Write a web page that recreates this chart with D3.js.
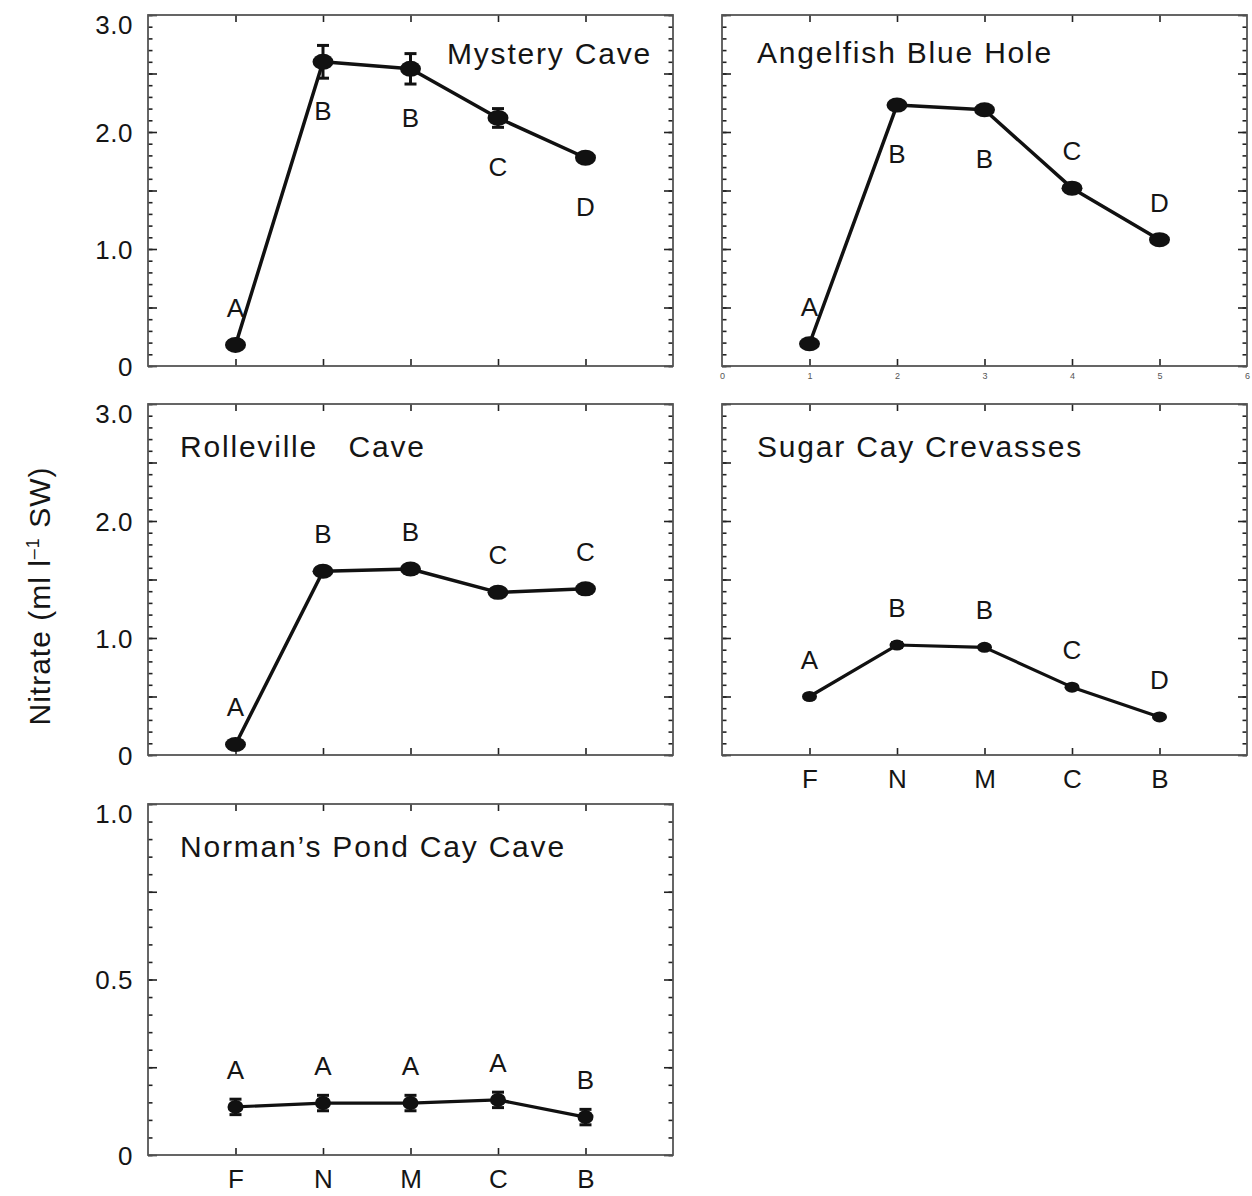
<!DOCTYPE html>
<html>
<head>
<meta charset="utf-8">
<script src="https://cdn.jsdelivr.net/npm/d3@7"></script>
<style>
  body { margin: 0; background: #fff; }
  text { font-family: "Liberation Sans", Arial, Helvetica, sans-serif; fill: #151515; }
</style>
</head>
<body>
<svg id="chart"></svg>
<script>
// sites on the x axis (positions 1..5)
var sites = ["F", "N", "M", "C", "B"];

// Mystery Cave
var mysteryMean = [0.18, 2.60, 2.54, 2.12, 1.78];
var mysteryErr = [0, 0.14, 0.13, 0.08, 0];
var mysteryLetters = ["A", "B", "B", "C", "D"];
var mysterySide = ["above", "below", "below", "below", "below"];

// Angelfish Blue Hole
var angelMean = [0.19, 2.23, 2.19, 1.52, 1.08];
var angelErr = [0, 0, 0, 0, 0];
var angelLetters = ["A", "B", "B", "C", "D"];
var angelSide = ["above", "below", "below", "above", "above"];

// Rolleville Cave
var rollMean = [0.09, 1.57, 1.59, 1.39, 1.42];
var rollErr = [0, 0, 0, 0, 0];
var rollLetters = ["A", "B", "B", "C", "C"];
var rollSide = ["above", "above", "above", "above", "above"];

// Sugar Cay Crevasses
var sugarMean = [0.50, 0.94, 0.92, 0.58, 0.325];
var sugarErr = [0, 0.02, 0.015, 0, 0];
var sugarLetters = ["A", "B", "B", "C", "D"];
var sugarSide = ["above", "above", "above", "above", "above"];

// Norman's Pond Cay Cave
var normanMean = [0.137, 0.148, 0.148, 0.157, 0.108];
var normanErr = [0.022, 0.022, 0.022, 0.022, 0.022];
var normanLetters = ["A", "A", "A", "A", "B"];
var normanSide = ["above", "above", "above", "above", "above"];

// y tick labels
var yLabels3 = [0, 1, 2, 3];
var yLabels1 = [0, 0.5, 1];
var xNumLabels = [0, 1, 2, 3, 4, 5, 6];

var W = 525, H = 351;

var panels = [
  { title: "Mystery Cave", mean: mysteryMean, err: mysteryErr, letters: mysteryLetters, side: mysterySide,
    ymax: 3, major: 0.5, minor: 0.1, ylab: yLabels3, left: 148, top: 15,
    tx: 652, ty: 64, anchor: "end", rx: 10.5, ry: 8, sw: 3.5 },
  { title: "Angelfish Blue Hole", mean: angelMean, err: angelErr, letters: angelLetters, side: angelSide,
    ymax: 3, major: 0.5, minor: 0.1, ylab: null, left: 722, top: 15, numAxis: true,
    tx: 757, ty: 63, anchor: "start", rx: 10.5, ry: 7.5, sw: 3.5 },
  { title: "Rolleville   Cave", mean: rollMean, err: rollErr, letters: rollLetters, side: rollSide,
    ymax: 3, major: 0.5, minor: 0.1, ylab: yLabels3, left: 148, top: 404,
    tx: 180, ty: 457, anchor: "start", rx: 10.5, ry: 7.5, sw: 3.5 },
  { title: "Sugar Cay Crevasses", mean: sugarMean, err: sugarErr, letters: sugarLetters, side: sugarSide,
    ymax: 3, major: 0.5, minor: 0.1, ylab: null, left: 722, top: 404, siteAxis: true,
    tx: 757, ty: 457, anchor: "start", rx: 7.5, ry: 5.5, sw: 3.2 },
  { title: "Norman\u2019s Pond Cay Cave", mean: normanMean, err: normanErr, letters: normanLetters, side: normanSide,
    ymax: 1, major: 0.25, minor: 0.05, ylab: yLabels1, left: 148, top: 804, siteAxis: true,
    tx: 180, ty: 857, anchor: "start", rx: 8, ry: 7, sw: 3.2 }
];

var svg = d3.select("#chart")
  .attr("width", 1252)
  .attr("height", 1196);

var x = d3.scaleLinear().domain([0, 6]).range([0, W]);

function steps(max, step) {
  return d3.range(0, Math.round(max / step) + 1).map(function(i) { return i * step; });
}

function clean(s) {
  s.select(".domain").remove();
  s.selectAll("line").attr("stroke-width", 1.6);
}

panels.forEach(function(p) {
  var g = svg.append("g").attr("transform", "translate(" + p.left + "," + p.top + ")");
  var y = d3.scaleLinear().domain([0, p.ymax]).range([H, 0]);

  var minorVals = steps(p.ymax, p.minor);
  var majorVals = steps(p.ymax, p.major);

  // inward ticks, left and right
  [[d3.axisLeft, 0], [d3.axisRight, W]].forEach(function(a) {
    g.append("g").attr("transform", "translate(" + a[1] + ",0)").attr("color", "#222")
      .call(a[0](y).tickValues(minorVals).tickSize(-4.5).tickFormat(""))
      .call(clean);
    g.append("g").attr("transform", "translate(" + a[1] + ",0)").attr("color", "#222")
      .call(a[0](y).tickValues(majorVals).tickSize(-9).tickFormat(""))
      .call(clean);
  });

  // x ticks top and bottom
  g.append("g").attr("transform", "translate(0," + H + ")").attr("color", "#222")
    .call(d3.axisBottom(x).tickValues([1, 2, 3, 4, 5]).tickSize(-7).tickFormat(""))
    .call(clean);
  g.append("g").attr("color", "#222")
    .call(d3.axisTop(x).tickValues([1, 2, 3, 4, 5]).tickSize(-7).tickFormat(""))
    .call(clean);

  // frame
  g.append("rect")
    .attr("width", W).attr("height", H)
    .attr("fill", "none").attr("stroke", "#555").attr("stroke-width", 1.8);

  // y labels
  if (p.ylab) {
    var yl = g.append("g")
      .call(d3.axisLeft(y).tickValues(p.ylab).tickSize(0).tickPadding(15)
        .tickFormat(function(d) { return d === 0 ? "0" : d.toFixed(1); }));
    yl.select(".domain").remove();
    yl.selectAll("text").style("font-size", "26px").style("letter-spacing", "0.5px")
      .attr("dy", function(d) { return d === p.ymax ? "0.71em" : "0.35em"; });
  }

  // site labels under the axis
  if (p.siteAxis) {
    var xl = g.append("g").attr("transform", "translate(0," + H + ")")
      .call(d3.axisBottom(x).tickValues([1, 2, 3, 4, 5]).tickSize(0).tickPadding(15)
        .tickFormat(function(d) { return sites[d - 1]; }));
    xl.select(".domain").remove();
    xl.selectAll("text").style("font-size", "26px");
  }

  // small numeric axis (Angelfish)
  if (p.numAxis) {
    var nl = g.append("g").attr("transform", "translate(0," + H + ")")
      .call(d3.axisBottom(x).tickValues(xNumLabels).tickSize(0).tickPadding(7)
        .tickFormat(d3.format("d")));
    nl.select(".domain").remove();
    nl.selectAll("text").style("font-size", "9px").style("fill", "#555");
  }

  var line = d3.line()
    .x(function(d, i) { return x(i + 1); })
    .y(function(d) { return y(d); });

  g.append("path")
    .datum(p.mean)
    .attr("d", line)
    .attr("fill", "none")
    .attr("stroke", "#111")
    .attr("stroke-width", p.sw)
    .attr("stroke-linejoin", "round");

  // error bars
  var eb = g.selectAll(".err")
    .data(p.mean.map(function(m, i) { return { m: m, e: p.err[i], i: i }; }).filter(function(d) { return d.e > 0; }))
    .enter().append("g").attr("class", "err")
    .attr("stroke", "#111").attr("stroke-width", 3);
  eb.append("line")
    .attr("x1", function(d) { return x(d.i + 1); })
    .attr("x2", function(d) { return x(d.i + 1); })
    .attr("y1", function(d) { return y(d.m - d.e); })
    .attr("y2", function(d) { return y(d.m + d.e); });
  [-1, 1].forEach(function(sgn) {
    eb.append("line")
      .attr("x1", function(d) { return x(d.i + 1) - 6; })
      .attr("x2", function(d) { return x(d.i + 1) + 6; })
      .attr("y1", function(d) { return y(d.m + sgn * d.e); })
      .attr("y2", function(d) { return y(d.m + sgn * d.e); });
  });

  // markers
  g.selectAll(".dot")
    .data(p.mean)
    .enter().append("ellipse")
    .attr("class", "dot")
    .attr("cx", function(d, i) { return x(i + 1); })
    .attr("cy", function(d) { return y(d); })
    .attr("rx", p.rx)
    .attr("ry", p.ry)
    .attr("fill", "#111");

  // significance letters
  g.selectAll(".letter")
    .data(p.mean)
    .enter().append("text")
    .attr("class", "letter")
    .attr("x", function(d, i) { return x(i + 1); })
    .attr("y", function(d, i) { return y(d) + (p.side[i] === "above" ? -28 : 58); })
    .attr("text-anchor", "middle")
    .style("font-size", "26px")
    .text(function(d, i) { return p.letters[i]; });

  // panel title
  svg.append("text")
    .attr("x", p.tx)
    .attr("y", p.ty)
    .attr("text-anchor", p.anchor)
    .style("font-size", "30px")
    .style("letter-spacing", "1.8px")
    .style("white-space", "pre")
    .text(p.title);
});

// y axis title
var yt = svg.append("text")
  .attr("transform", "translate(50,596) rotate(-90)")
  .attr("text-anchor", "middle")
  .style("font-size", "30px")
  .style("letter-spacing", "1px");
yt.append("tspan").text("Nitrate (ml l");
yt.append("tspan").attr("dy", -11).style("font-size", "18px").text("\u20131");
yt.append("tspan").attr("dy", 11).text(" SW)");
</script>
</body>
</html>
